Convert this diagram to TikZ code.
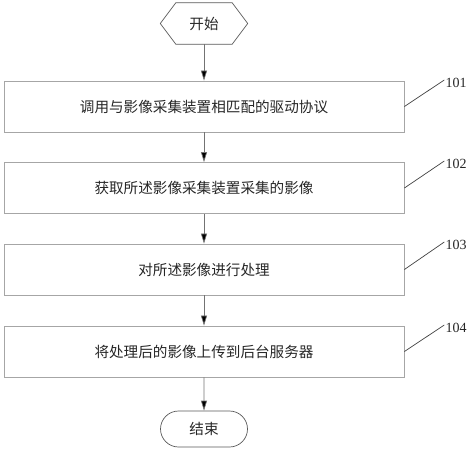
\documentclass[tikz,border=0pt]{standalone}
\usepackage{fontspec}
\setmainfont{Liberation Serif}
\newfontfamily\cjk{Noto Sans CJK SC}
\usetikzlibrary{arrows.meta,shapes.misc}
\begin{document}
\begin{tikzpicture}[x=1pt,y=-1pt,
  stepbox/.style={draw=black!35,line width=0.8pt,minimum width=400pt,minimum height=51pt,inner sep=0pt,font=\cjk\fontsize{14.6}{14.6}\selectfont,text=black!85},
  flow/.style={draw=black!55,line width=0.7pt,-{Triangle[width=6pt,length=10pt,fill=black]}},
  lab/.style={font=\fontsize{14}{14}\selectfont,inner sep=0pt,text=black!85},
  lead/.style={draw=black!75,line width=0.7pt},
  term/.style={inner sep=0pt,font=\cjk\fontsize{14.6}{14.6}\selectfont,text=black!85}]
\useasboundingbox (0,0) rectangle (471,450);
\node[term,minimum width=87pt,minimum height=41pt] (start) at (204,23.5) {开始};
\draw[draw=black!65,line width=0.7pt] (start.west) -- ([xshift=15.5pt]start.north west) -- ([xshift=-15.5pt]start.north east) -- (start.east) -- ([xshift=-15.5pt]start.south east) -- ([xshift=15.5pt]start.south west) -- cycle;
\node[stepbox] (b1) at (204,106.5) {调用与影像采集装置相匹配的驱动协议};
\node[stepbox] (b2) at (204,188) {获取所述影像采集装置采集的影像};
\node[stepbox] (b3) at (204,269.5) {对所述影像进行处理};
\node[stepbox] (b4) at (204,351.5) {将处理后的影像上传到后台服务器};
\node[term,rounded rectangle,draw=black!65,line width=0.7pt,minimum width=87pt,minimum height=36pt] (end) at (204,429) {结束};
\node[lab] (l1) at (456,83) {101};
\node[lab] (l2) at (456,164) {102};
\node[lab] (l3) at (456,245) {103};
\node[lab] (l4) at (456,328) {104};
\draw[flow] (start) -- (b1);
\draw[flow] (b1) -- (b2);
\draw[flow] (b2) -- (b3);
\draw[flow] (b3) -- (b4);
\draw[flow] (b4) -- (end);
\draw[lead] (b1.east) -- ([xshift=-1pt,yshift=3pt]l1.west);
\draw[lead] (b2.east) -- ([xshift=-1pt,yshift=3pt]l2.west);
\draw[lead] (b3.east) -- ([xshift=-1pt,yshift=3pt]l3.west);
\draw[lead] (b4.east) -- ([xshift=-1pt,yshift=3pt]l4.west);
\end{tikzpicture}
\end{document}
